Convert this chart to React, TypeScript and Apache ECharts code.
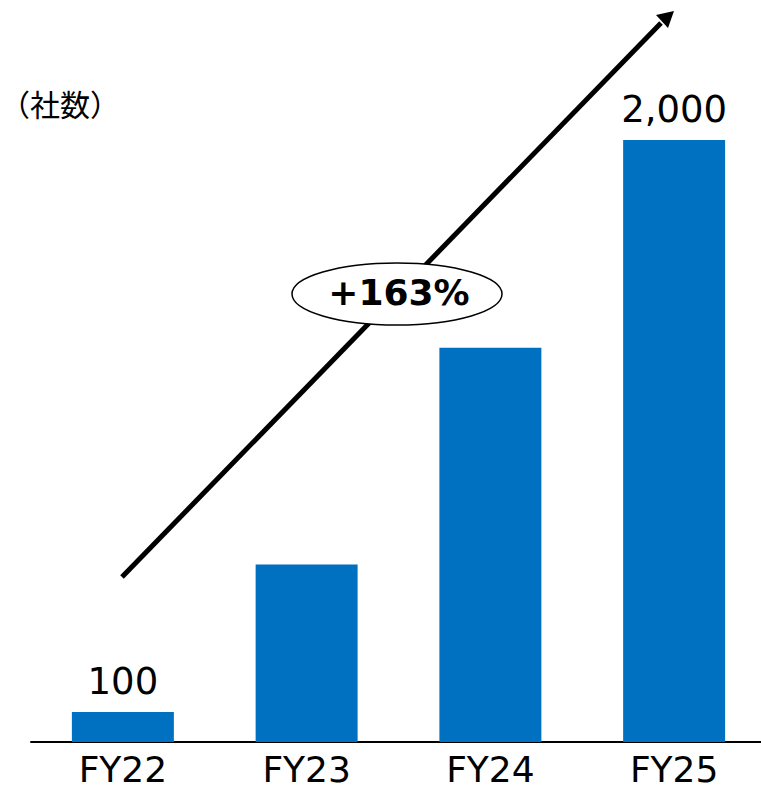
import React, { useEffect, useRef } from "react";
import * as echarts from "echarts";

const categories = ["FY22", "FY23", "FY24", "FY25"];
const values = [100, 590, 1310, 2000];
const labelTexts = ["100", "", "", "2,000"];
const unitLabel = "（社数）";
const growthLabel = "+163%";

export default function App() {
  const ref = useRef<HTMLDivElement>(null);
  useEffect(() => {
    if (!ref.current) return;
    const chart = echarts.init(ref.current, null, { renderer: "svg" });
    const font = "'DejaVu Sans', Verdana, sans-serif";
    chart.setOption({
      animation: false,
      grid: { left: 31, right: -5, top: 140, bottom: 44, outerBoundsMode: "none", containLabel: false },
      xAxis: {
        type: "category",
        data: categories,
        axisTick: { show: false },
        axisLine: { lineStyle: { color: "#000", width: 2 } },
        axisLabel: { color: "#000", fontSize: 36, fontFamily: font, margin: 9 },
      },
      yAxis: {
        type: "value",
        min: 0,
        max: 2000,
        show: false,
        splitLine: { show: false },
      },
      series: [
        {
          type: "bar",
          data: values,
          barWidth: "55.5%",
          itemStyle: { color: "#0070C0" },
          label: {
            show: true,
            position: "top",
            distance: 12,
            color: "#000",
            fontSize: 37,
            fontFamily: font,
            formatter: (p: any) => labelTexts[p.dataIndex],
          },
        },
      ],
      graphic: [
        {
          type: "text",
          left: 0,
          top: 88,
          style: {
            text: unitLabel,
            fontSize: 30,
            fontFamily: "'Noto Sans CJK JP', sans-serif",
            fill: "#000",
          },
        },
        {
          type: "line",
          shape: { x1: 122, y1: 577, x2: 661, y2: 23 },
          style: { stroke: "#000", lineWidth: 5 },
          z: 10,
        },
        {
          type: "polygon",
          shape: { points: [[674, 11], [656, 15], [668, 28]] },
          style: { fill: "#000" },
          z: 10,
        },
        {
          type: "ellipse",
          shape: { cx: 397, cy: 294, rx: 105, ry: 31 },
          style: { fill: "#fff", stroke: "#000", lineWidth: 1.5 },
          z: 11,
        },
        {
          type: "text",
          x: 399,
          y: 292,
          style: {
            text: growthLabel,
            fontSize: 36,
            fontWeight: "bold",
            fontFamily: font,
            fill: "#000",
            align: "center",
            verticalAlign: "middle",
          },
          z: 12,
        },
      ],
    });
    return () => chart.dispose();
  }, []);
  return (
    <div
      ref={ref}
      style={{ position: "fixed", left: 0, top: 0, width: 761, height: 786, background: "#fff" }}
    />
  );
}
